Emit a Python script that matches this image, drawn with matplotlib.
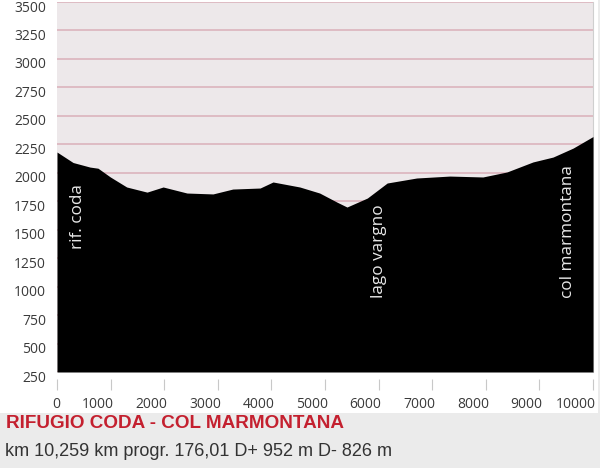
import matplotlib.pyplot as plt
from matplotlib.patches import Rectangle
from matplotlib.transforms import ScaledTranslation

# profile (distance m, elevation m)
dist = [0, 300, 615, 765, 995, 1300, 1680, 1980, 2425, 2910, 3280, 3790,
        4030, 4530, 4900, 5220, 5410, 5790, 6160, 6710, 7330, 7945, 8395,
        8880, 9255, 9630, 10000]
elev = [2182, 2090, 2050, 2040, 1963, 1875, 1830, 1875, 1822, 1814, 1857,
        1866, 1919, 1875, 1822, 1743, 1699, 1778, 1910, 1954, 1971, 1963,
        2007, 2095, 2138, 2217, 2318]

places = ['rif. coda', 'lago vargno', 'col marmontana']
place_x = [400, 6000, 9530]
place_y = [1330, 900, 900]

x_ticks = [0, 1000, 2000, 3000, 4000, 5000, 6000, 7000, 8000, 9000, 10000]
y_ticks = [250, 500, 750, 1000, 1250, 1500, 1750, 2000, 2250, 2500, 2750,
           3000, 3250, 3500]

title = 'RIFUGIO CODA - COL MARMONTANA'
subtitle = 'km 10,259 km progr. 176,01 D+ 952 m D- 826 m'

plt.rcParams['font.family'] = ['Open Sans', 'DejaVu Sans']

fig = plt.figure(figsize=(6, 4.68), dpi=100)
fig.patch.set_facecolor('#ebebeb')
fig.patches.append(Rectangle((0, 1 - 413 / 468), 598 / 600, 413 / 468,
                             transform=fig.transFigure, facecolor='white',
                             edgecolor='none', zorder=-10))

ax = fig.add_axes([57 / 600, 96 / 468, 536 / 600, 370 / 468])
ax.set_facecolor('#ede8ea')
ax.fill_between(dist, elev, 250, color='black', zorder=3, linewidth=0)
ax.set_xlim(0, dist[-1])
ax.set_ylim(250, 3500)
ax.set_xticks(x_ticks)
ax.set_yticks(y_ticks)
ax.grid(axis='y', color='#dcb4bd', linewidth=1.2, zorder=1)
ax.grid(axis='x', visible=False)
for s in ['top', 'left', 'bottom']:
    ax.spines[s].set_visible(False)
ax.spines['right'].set_color('#cfcfcf')
ax.spines['bottom'].set_position(('outward', 5))
ax.tick_params(axis='y', length=0, pad=8, labelsize=10, labelcolor='#3a3a3a')
ax.tick_params(axis='x', length=8, color='#c8c8c8', pad=5, labelsize=10,
               labelcolor='#3a3a3a')

# y labels sit a little below their grid lines in the original
shift = ScaledTranslation(0, -4 / 100, fig.dpi_scale_trans)
for lab in ax.get_yticklabels():
    lab.set_transform(lab.get_transform() + shift)
# x labels end at their tick mark
xshift = ScaledTranslation(3 / 100, 0, fig.dpi_scale_trans)
for lab in ax.get_xticklabels():
    lab.set_ha('right')
    lab.set_transform(lab.get_transform() + xshift)

for name, px, py in zip(places, place_x, place_y):
    ax.text(px, py, name, rotation=90, color='#e8e8e8', fontsize=12.3,
            ha='center', va='bottom', zorder=4)

fig.text(6 / 600, 1 - 423 / 468, title, color='#c4202f', fontsize=13.6,
         fontweight='bold', family=['Liberation Sans', 'DejaVu Sans'],
         va='center', ha='left')
fig.text(5 / 600, 1 - 451 / 468, subtitle, color='#333333', fontsize=13,
         family=['Liberation Sans', 'DejaVu Sans'], va='center', ha='left')

fig.savefig('out.png', dpi=100, facecolor=fig.get_facecolor())
